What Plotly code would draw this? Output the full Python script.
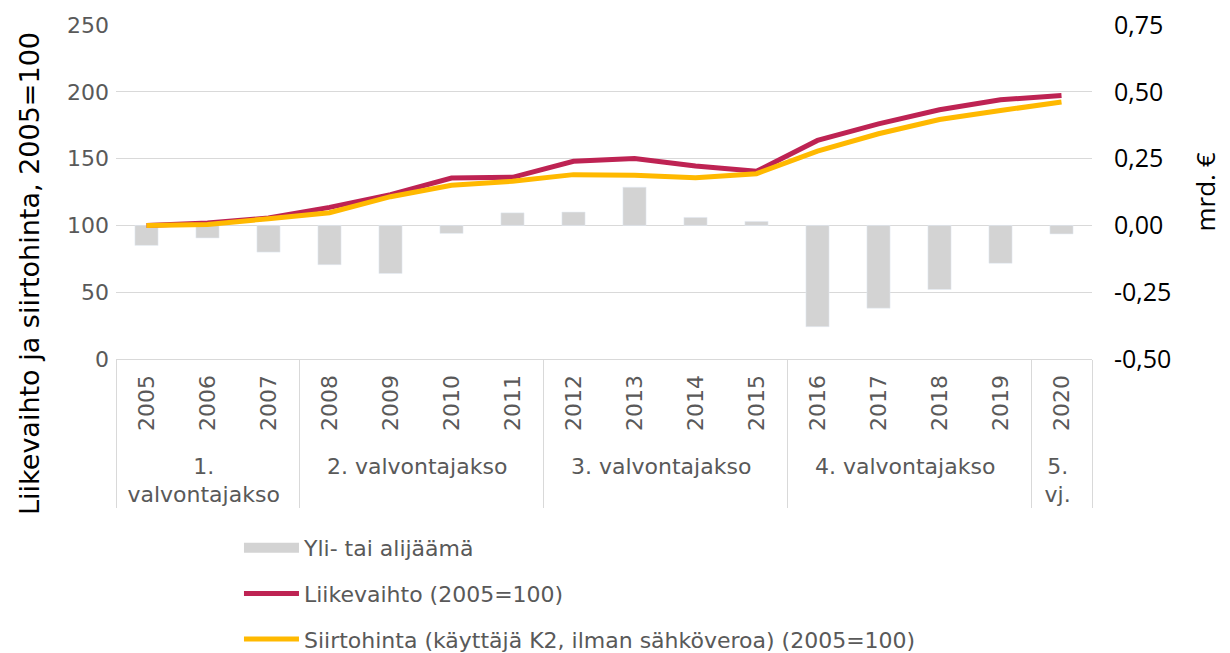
import plotly.graph_objects as go

years = ["2005", "2006", "2007", "2008", "2009", "2010", "2011", "2012",
         "2013", "2014", "2015", "2016", "2017", "2018", "2019", "2020"]
periods = ["1.<br>valvontajakso"] * 3 + ["2. valvontajakso"] * 4 + \
          ["3. valvontajakso"] * 4 + ["4. valvontajakso"] * 4 + ["5.<br>vj."]

surplus = [-0.075, -0.047, -0.10, -0.147, -0.18, -0.03, 0.047, 0.05,
           0.143, 0.03, 0.015, -0.379, -0.31, -0.24, -0.142, -0.032]
turnover = [100, 101.8, 105.5, 113.5, 123, 135.4, 136, 148,
            150, 144.4, 140.5, 163.6, 176, 186.6, 194, 197.3]
price = [100, 100.7, 105, 109.5, 121.5, 130, 133, 138,
         137.5, 135.7, 138.7, 155.6, 168.6, 179.3, 186, 192.3]

names = ["Yli- tai alijäämä", "Liikevaihto (2005=100)",
         "Siirtohinta (käyttäjä K2, ilman sähköveroa) (2005=100)"]

left_ticks = [0, 50, 100, 150, 200, 250]
right_ticks = [-0.5, -0.25, 0, 0.25, 0.5, 0.75]
right_labels = ["-0,50", "-0,25", "0,00", "0,25", "0,50", "0,75"]

# leading no-break space gives the period labels a little more room below the years
year_labels = ["\u00a0" + y for y in years]
x = [periods, year_labels]
GRAY_TXT = "#595959"
GRID = "#d9d9d9"
BAR_GRAY = "#d3d3d3"

fig = go.Figure()
fig.add_trace(go.Bar(x=x, y=surplus, name=names[0], marker_color=BAR_GRAY,
                     yaxis="y", showlegend=False))
# legend entry for the bars, drawn as a wide swatch like the original
fig.add_trace(go.Scatter(x=[None], y=[None], name=names[0], mode="lines",
                         line=dict(color=BAR_GRAY, width=14), yaxis="y2",
                         legendgroup="a", hoverinfo="skip"))
fig.add_trace(go.Scatter(x=x, y=turnover, name=names[1], mode="lines",
                         line=dict(color="#be2353", width=5), yaxis="y2",
                         legendgroup="b"))
fig.add_trace(go.Scatter(x=x, y=price, name=names[2], mode="lines",
                         line=dict(color="#ffb900", width=5), yaxis="y2",
                         legendgroup="c"))

# page body has an 8px margin, so the figure is 8px smaller than the window
fig.update_layout(
    width=1222, height=645,
    margin=dict(l=108, r=138, t=17, b=294, autoexpand=False),
    paper_bgcolor="white", plot_bgcolor="white",
    font=dict(family="DejaVu Sans", size=22, color=GRAY_TXT),
    bargap=0.62,
    showlegend=True,
    legend=dict(orientation="v", x=0.126, xanchor="left", y=-0.503, yanchor="top",
                font=dict(family="DejaVu Sans", size=22, color=GRAY_TXT),
                tracegroupgap=14, traceorder="grouped", itemwidth=55),
    xaxis=dict(type="multicategory", showline=True, linecolor=GRID, linewidth=1.3,
               showdividers=True, dividercolor=GRID, dividerwidth=1.3,
               tickangle=-90, ticks="", automargin=False, ticklabelstandoff=6,
               tickfont=dict(family="DejaVu Sans", size=22, color=GRAY_TXT)),
    yaxis=dict(range=[-0.50001, 0.75001], tickvals=right_ticks, ticktext=right_labels,
               side="right", showgrid=True, gridcolor=GRID, gridwidth=1.3,
               zeroline=False, ticklabelstandoff=21, automargin=False,
               ticklabeloverflow="allow",
               tickfont=dict(family="Open Sans", size=25, color="#000000"),
               title=dict(text="mrd. €", standoff=26,
                          font=dict(family="Open Sans", size=26, color="#000000"))),
    yaxis2=dict(range=[-0.002, 250.002], tickvals=left_ticks, overlaying="y",
                side="left", showgrid=False, zeroline=False, automargin=False,
                ticklabelstandoff=6, ticklabeloverflow="allow",
                tickfont=dict(family="DejaVu Sans", size=22, color=GRAY_TXT)),
    annotations=[dict(text="Liikevaihto ja siirtohinta, 2005=100", textangle=-90,
                      xref="paper", yref="paper", x=-0.088, y=0.255,
                      xanchor="center", yanchor="middle", showarrow=False,
                      font=dict(family="DejaVu Sans", size=27, color="#000000"))],
)

fig.write_html("out.html")
